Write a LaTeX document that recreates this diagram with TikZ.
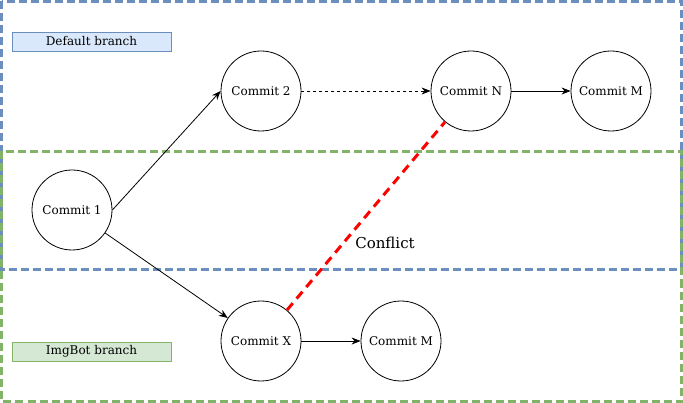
\documentclass[tikz,border=0pt]{standalone}
\usepackage{fontspec}
\setmainfont{DejaVu Serif}
\usetikzlibrary{arrows.meta, calc}
\definecolor{blueline}{HTML}{6C8EBF}
\definecolor{bluefill}{HTML}{DAE8FC}
\definecolor{greenline}{HTML}{82B366}
\definecolor{greenfill}{HTML}{D5E8D4}

\begin{document}
\begin{tikzpicture}[x=1pt,y=-1pt,
	commit/.style={circle, draw, line width=0.8pt, minimum size=80pt, inner sep=0pt, font=\fontsize{12}{14}\selectfont},
	lane/.style={line width=3pt, dash pattern=on 8pt off 4pt},
	tag/.style={draw, line width=0.8pt, minimum width=159pt, minimum height=19pt, inner sep=0pt, font=\fontsize{12}{14}\selectfont},
	link/.style={line width=0.8pt, -{Stealth[length=9pt,width=7pt]}}]

	\useasboundingbox (0,0) rectangle (683,403);

	\draw [lane, blueline] (1.5,1.5) rectangle (681.5,270);
	\draw [lane, greenline] (1.5,151.5) rectangle (681.5,401.5);

	\node [tag, blueline, fill=bluefill, text=black] (deftag) at (91.5,41.5) {Default branch};
	\node [tag, greenline, fill=greenfill, text=black] (bottag) at (91.5,351.5) {ImgBot branch};

	\node [commit] (c1) at (72,210) {Commit 1};
	\node [commit] (c2) at (261,91) {Commit 2};
	\node [commit] (cn) at (471,91) {Commit N};
	\node [commit] (cm) at (611,91) {Commit M};
	\node [commit] (cx) at (261,341) {Commit X};
	\node [commit] (cm2) at (401,341) {Commit M};

	\node [font=\fontsize{15}{18}\selectfont] (conflict) at (385,243) {Conflict};

	\draw [link] (c1.east) -- (c2.west);
	\draw [link] (c1) -- (cx);
	\draw [link, dashed] (c2) -- (cn);
	\draw [link] (cn) -- (cm);
	\draw [link] (cx) -- (cm2);
	\draw [red, line width=3pt, dash pattern=on 9pt off 6pt] (cx) -- (cn);

\end{tikzpicture}
\end{document}
